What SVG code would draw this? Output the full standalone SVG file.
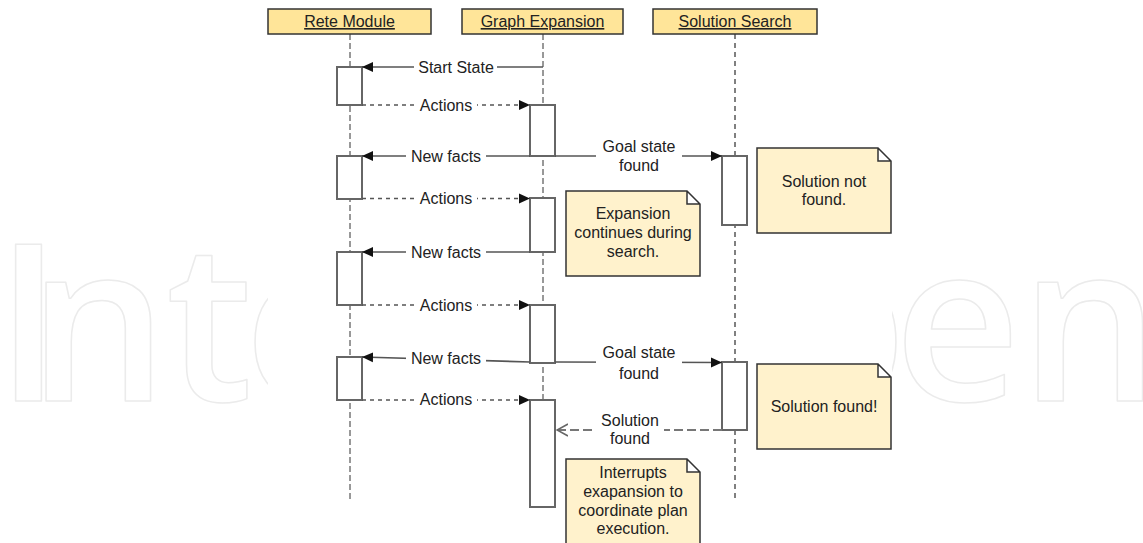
<svg xmlns="http://www.w3.org/2000/svg" width="1143" height="543" viewBox="0 0 1143 543">
  <style>
    text { font-family: "Liberation Sans", Arial, sans-serif; font-size: 16px; fill: #222; }
    .c { text-anchor: middle; }
    .hdr rect { fill: #FFE599; stroke: #333; stroke-width: 1.5; }
    .hdr text { text-decoration: underline; }
    .life { stroke: #333; stroke-width: 1; stroke-dasharray: 6 3; fill: none; }
    .life2 { stroke: #808080; stroke-width: 2; stroke-dasharray: 5 4; fill: none; }
    .act { fill: #fff; stroke: #666; stroke-width: 2; }
    .msg { stroke: #555; stroke-width: 1.7; fill: none; }
    .call { marker-end: url(#filled); }
    .ret { stroke-dasharray: 4 4; marker-end: url(#filled); }
    .reply { stroke: #777; stroke-width: 2; stroke-dasharray: 9 4; marker-end: url(#open); }
    .lbl { fill: #fff; stroke: none; }
    .note path { fill: #FFF2CC; stroke: #333; stroke-width: 1.5; stroke-linejoin: miter; }
    .wm { font-family: "Open Sans", "DejaVu Sans", sans-serif; font-size: 220px; font-weight: 600; fill: none; stroke: #ebebeb; stroke-width: 1.5; stroke-linejoin: round; }
  </style>
  <defs>
    <marker id="filled" viewBox="0 0 11 11" refX="11" refY="5.5" markerWidth="11" markerHeight="11" markerUnits="userSpaceOnUse" orient="auto">
      <path d="M0,0.5 L11,5.5 L0,10.5 z" fill="#111"/>
    </marker>
    <marker id="open" viewBox="0 0 12 14" refX="12" refY="7" markerWidth="12" markerHeight="14" markerUnits="userSpaceOnUse" orient="auto">
      <path d="M0,1 L11,7 L0,13" fill="none" stroke="#666" stroke-width="1.6"/>
    </marker>
  </defs>

  <rect width="1143" height="543" fill="#fff"/>

  <!-- faint publisher mark in the background -->
  <text class="wm" x="-5 28 166 244 370 480 610 770 894 1020" y="401">IntechOpen</text>
  <rect x="268" y="0" width="624" height="543" fill="#fff"/>

  <!-- lifelines -->
  <g id="lifelines">
    <line class="life" x1="350" y1="34" x2="350" y2="502"/>
    <line class="life" x1="543" y1="34" x2="543" y2="507"/>
    <line class="life2" x1="735" y1="34" x2="735" y2="500"/>
  </g>

  <!-- participant headers -->
  <g id="rete-module" class="hdr">
    <rect x="268" y="9" width="163" height="25"/>
    <text class="c" x="349.5" y="27">Rete Module</text>
  </g>
  <g id="graph-expansion" class="hdr">
    <rect x="462" y="9" width="161" height="25"/>
    <text class="c" x="542.5" y="27">Graph Expansion</text>
  </g>
  <g id="solution-search" class="hdr">
    <rect x="653" y="9" width="164" height="25"/>
    <text class="c" x="735" y="27">Solution Search</text>
  </g>

  <!-- activation bars -->
  <g id="rete-activations">
    <rect class="act" x="337" y="67" width="25" height="38"/>
    <rect class="act" x="337" y="156" width="25" height="43"/>
    <rect class="act" x="337" y="252" width="25" height="53"/>
    <rect class="act" x="337" y="357" width="25" height="43"/>
  </g>
  <g id="expansion-activations">
    <rect class="act" x="530" y="105" width="25" height="51"/>
    <rect class="act" x="530" y="198" width="25" height="54"/>
    <rect class="act" x="530" y="305" width="25" height="58"/>
    <rect class="act" x="530" y="400" width="25" height="107"/>
  </g>
  <g id="search-activations">
    <rect class="act" x="722" y="156" width="25" height="69"/>
    <rect class="act" x="722" y="362" width="25" height="68"/>
  </g>

  <!-- messages -->
  <g id="connectors">
    <line class="msg call" x1="543" y1="67" x2="362" y2="67"/>
    <line class="msg ret" x1="362" y1="105" x2="530" y2="105"/>
    <line class="msg call" x1="530" y1="156" x2="362" y2="156"/>
    <line class="msg call" x1="555" y1="156" x2="722" y2="156"/>
    <line class="msg ret" x1="362" y1="198.5" x2="530" y2="198.5"/>
    <line class="msg call" x1="530" y1="252" x2="362" y2="252"/>
    <line class="msg ret" x1="362" y1="305" x2="530" y2="305"/>
    <line class="msg call" x1="530" y1="362" x2="362" y2="357"/>
    <line class="msg call" x1="555" y1="362" x2="722" y2="362.5"/>
    <line class="msg ret" x1="362" y1="400" x2="530" y2="400"/>
    <line class="msg reply" x1="722" y1="430" x2="556" y2="430"/>

    <!-- message labels -->
    <rect class="lbl" x="414" y="58" width="83" height="18"/>
    <text class="c" x="456" y="73">Start State</text>
    <rect class="lbl" x="414" y="96" width="63" height="18"/>
    <text class="c" x="446" y="111">Actions</text>
    <rect class="lbl" x="406" y="147" width="80" height="18"/>
    <text class="c" x="446" y="162">New facts</text>
    <rect class="lbl" x="596" y="138" width="86" height="36"/>
    <text class="c" x="639" y="152">Goal state</text>
    <text class="c" x="639" y="171">found</text>
    <rect class="lbl" x="414" y="190" width="63" height="18"/>
    <text class="c" x="446" y="204">Actions</text>
    <rect class="lbl" x="406" y="243" width="80" height="18"/>
    <text class="c" x="446" y="258">New facts</text>
    <rect class="lbl" x="414" y="296" width="63" height="18"/>
    <text class="c" x="446" y="311">Actions</text>
    <rect class="lbl" x="406" y="350" width="80" height="18"/>
    <text class="c" x="446" y="364">New facts</text>
    <rect class="lbl" x="596" y="343" width="86" height="38"/>
    <text class="c" x="639" y="358">Goal state</text>
    <text class="c" x="639" y="379">found</text>
    <rect class="lbl" x="414" y="391" width="63" height="18"/>
    <text class="c" x="446" y="405">Actions</text>
    <rect class="lbl" x="596" y="410" width="68" height="38"/>
    <text class="c" x="630" y="426">Solution</text>
    <text class="c" x="630" y="444">found</text>
  </g>

  <!-- notes -->
  <g id="note-expansion" class="note">
    <path d="M566,191 H687 L700,204 V276 H566 Z M687,191 V204 H700"/>
    <text class="c" x="633" y="219">Expansion</text>
    <text class="c" x="633" y="238">continues during</text>
    <text class="c" x="633" y="257">search.</text>
  </g>
  <g id="note-not-found" class="note">
    <path d="M757,148 H878 L891,161 V233 H757 Z M878,148 V161 H891"/>
    <text class="c" x="824" y="187">Solution not</text>
    <text class="c" x="824" y="205">found.</text>
  </g>
  <g id="note-found" class="note">
    <path d="M757,364 H878 L891,377 V449 H757 Z M878,364 V377 H891"/>
    <text class="c" x="824" y="412">Solution found!</text>
  </g>
  <g id="note-interrupts" class="note">
    <path d="M566,459 H687 L700,472 V552 H566 Z M687,459 V472 H700"/>
    <text class="c" x="633" y="478">Interrupts</text>
    <text class="c" x="633" y="497">exapansion to</text>
    <text class="c" x="633" y="516">coordinate plan</text>
    <text class="c" x="633" y="534">execution.</text>
  </g>
</svg>
